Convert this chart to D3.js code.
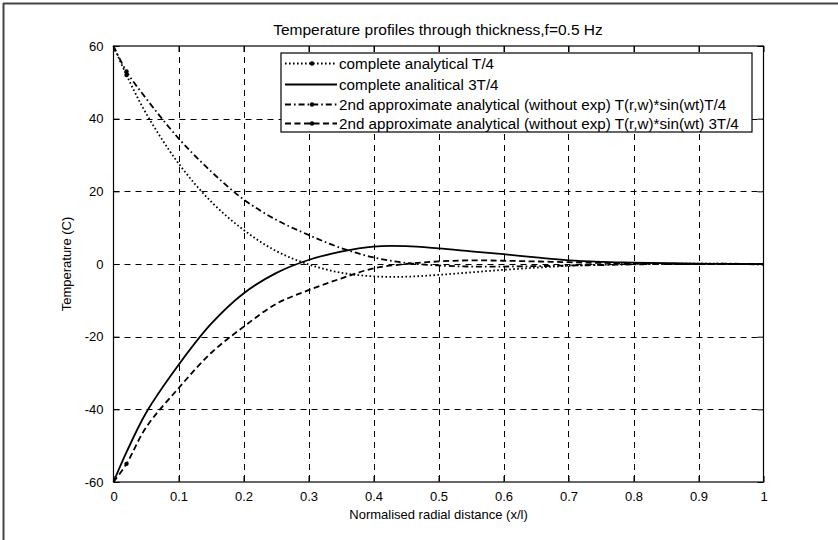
<!DOCTYPE html>
<html><head><meta charset="utf-8">
<script src="https://cdn.jsdelivr.net/npm/d3@7"></script>
<style>body{margin:0;background:#fff;} text{font-family:"Liberation Sans",Arial,sans-serif;}</style>
</head><body>
<svg id="c" width="838" height="540"></svg>
<script>
const title = "Temperature profiles through thickness,f=0.5 Hz";
const xLabel = "Normalised radial distance (x/l)";
const yLabel = "Temperature (C)";
const xTicks = [0,0.1,0.2,0.3,0.4,0.5,0.6,0.7,0.8,0.9,1];
const yTicks = [-60,-40,-20,0,20,40,60];
const xs = [0,0.02,0.05,0.1,0.15,0.2,0.25,0.3,0.35,0.4,0.45,0.5,0.55,0.6,0.65,0.7,0.75,0.8,0.85,0.9,0.95,1];
const completeT4  = [60,52,41.5,27.7,17.2,9.4,3.6,-0.1,-2.4,-3.4,-3.5,-3.0,-2.3,-1.6,-1.0,-0.5,-0.2,0,0.1,0.1,0.05,0];
const complete3T4 = [-60,-51.8,-41,-27.8,-16.5,-8.1,-2.5,1.1,3.4,4.8,4.9,4.3,3.5,2.7,1.8,1.0,0.6,0.4,0.2,0.1,0,0];
const approxT4    = [60,53,45.6,34.6,25.5,17.8,12.2,8.0,4.4,1.8,0.3,-0.4,-0.7,-0.7,-0.6,-0.4,-0.3,-0.1,0,0,0.1,-0.2];
const approx3T4   = [-60,-55,-45,-34.2,-24.5,-17.3,-11,-7.2,-4.0,-1.2,0,0.7,1.0,0.9,0.7,0.5,0.3,0.2,0.1,0,0,0];
const seriesNames = ["complete analytical T/4","complete analitical 3T/4",
  "2nd approximate analytical (without exp) T(r,w)*sin(wt)T/4",
  "2nd approximate analytical (without exp) T(r,w)*sin(wt) 3T/4"];
const markerX = 0.02;

const series = [
  {name:seriesNames[0], vals:completeT4, dash:"1.6,2.4", marker:true},
  {name:seriesNames[1], vals:complete3T4, dash:null, marker:false},
  {name:seriesNames[2], vals:approxT4, dash:"6,3,1.6,3", marker:true},
  {name:seriesNames[3], vals:approx3T4, dash:"6,3.5", marker:true}
];

const svg = d3.select("#c");
const L=113.5, R=763.5, T=46, B=482;
const x = d3.scaleLinear().domain([0,1]).range([L,R]);
const y = d3.scaleLinear().domain([-60,60]).range([B,T]);

svg.append("line").attr("x1",3).attr("x2",838).attr("y1",3.5).attr("y2",3.5).attr("stroke","#444").attr("stroke-width",2);
svg.append("line").attr("x1",3.5).attr("x2",3.5).attr("y1",3).attr("y2",540).attr("stroke","#444").attr("stroke-width",2);

const g = svg.append("g");
xTicks.slice(1,-1).forEach(t=>{
  g.append("line").attr("x1",Math.round(x(t))+0.5).attr("x2",Math.round(x(t))+0.5).attr("y1",T).attr("y2",B)
   .attr("stroke","#000").attr("stroke-dasharray","6,5").attr("stroke-width",1);
});
yTicks.slice(1,-1).forEach(t=>{
  g.append("line").attr("x1",L).attr("x2",R).attr("y1",Math.round(y(t))+0.5).attr("y2",Math.round(y(t))+0.5)
   .attr("stroke","#000").attr("stroke-dasharray","6,5").attr("stroke-width",1);
});

const line = d3.line().x((d,i)=>x(xs[i])).y(d=>y(d)).curve(d3.curveCatmullRom.alpha(0.5));
series.forEach(s=>{
  svg.append("path").attr("d",line(s.vals)).attr("fill","none").attr("stroke","#000")
    .attr("stroke-width",1.8).attr("stroke-dasharray",s.dash);
  if(s.marker){
    const i = xs.indexOf(markerX);
    svg.append("circle").attr("cx",x(xs[i])).attr("cy",y(s.vals[i])).attr("r",2.2).attr("fill","#000");
  }
});

svg.append("rect").attr("x",L).attr("y",T).attr("width",R-L).attr("height",B-T)
  .attr("fill","none").attr("stroke","#000").attr("stroke-width",1.2);

const fmt = d => String(d);
const axB = d3.axisBottom(x).tickValues(xTicks).tickSize(-6).tickPadding(10).tickFormat(fmt);
const axL = d3.axisLeft(y).tickValues(yTicks).tickSize(-6).tickPadding(10).tickFormat(fmt);
const axT = d3.axisTop(x).tickValues(xTicks).tickSize(-6).tickFormat("");
const axR = d3.axisRight(y).tickValues(yTicks).tickSize(-6).tickFormat("");
[[axB,`translate(0,${B})`],[axL,`translate(${L},0)`],[axT,`translate(0,${T})`],[axR,`translate(${R},0)`]].forEach(([a,tr])=>{
  const gg = svg.append("g").attr("transform",tr).call(a);
  gg.select(".domain").remove();
  gg.selectAll("line").attr("stroke","#000");
  gg.selectAll("text").attr("font-size",13).attr("fill","#000").style("font-family","Liberation Sans, Arial, sans-serif");
});

svg.append("text").attr("x",438).attr("y",35).attr("text-anchor","middle").attr("font-size",15.5).text(title);
svg.append("text").attr("x",(L+R)/2).attr("y",519).attr("text-anchor","middle").attr("font-size",13).text(xLabel);
svg.append("text").attr("transform",`translate(71,${(T+B)/2}) rotate(-90)`).attr("text-anchor","middle").attr("font-size",13).text(yLabel);

const lx=281, ly=53, lw=471, lh=79;
svg.append("rect").attr("x",lx).attr("y",ly).attr("width",lw).attr("height",lh).attr("fill","#fff").attr("stroke","#000").attr("stroke-width",1.2);
const rowY=[63.5,84.5,104.5,123.5];
series.forEach((s,i)=>{
  svg.append("line").attr("x1",285).attr("x2",337).attr("y1",rowY[i]).attr("y2",rowY[i])
    .attr("stroke","#000").attr("stroke-width",1.8).attr("stroke-dasharray",s.dash);
  if(s.marker) svg.append("circle").attr("cx",312).attr("cy",rowY[i]).attr("r",2.2).attr("fill","#000");
  svg.append("text").attr("x",339).attr("y",rowY[i]+5).attr("font-size",15.2).text(s.name);
});
</script>
</body></html>
